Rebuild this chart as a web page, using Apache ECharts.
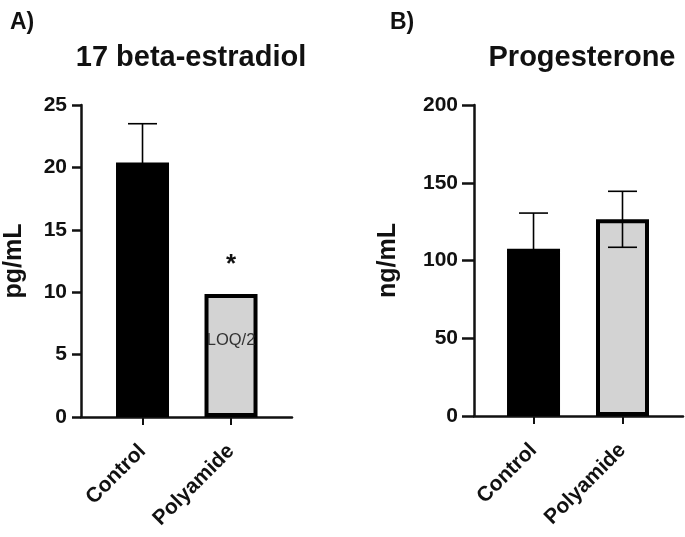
<!DOCTYPE html>
<html>
<head>
<meta charset="utf-8">
<script src="https://cdn.jsdelivr.net/npm/echarts@6/dist/echarts.min.js"></script>
<style>html,body{margin:0;padding:0;background:#fff;}#c{width:685px;height:537px;}</style>
</head>
<body>
<div id="c"></div>
<script>
// ---- data ----
const categories = ['Control', 'Polyamide'];
const e2Means = [20.4, 9.85];
const e2Err = [3.1, null];
const progMeans = [107.5, 126.5];
const progErr = [23, 18];
const e2Ticks = [0, 5, 10, 15, 20, 25];
const progTicks = [0, 50, 100, 150, 200];
const barColors = ['#000000', '#d3d3d3'];
const panelTitles = ['17 beta-estradiol', 'Progesterone'];
const panelLetters = ['A)', 'B)'];
const yNames = ['pg/mL', 'ng/mL'];
const sigMark = '*';
const loqText = 'LOQ/2';
const sigY = 12.2;
const loqY = 6.1;

const FONT = "'Liberation Sans', Arial, Helvetica, sans-serif";
const INK = '#111';

function barData(means) {
  return means.map((v, i) => ({ value: [i, v], itemStyle: { color: barColors[i] } }));
}
function errData(means, errs) {
  const out = [];
  means.forEach((m, i) => { if (errs[i] != null) out.push([i, m - errs[i], m + errs[i]]); });
  return out;
}
function errRender(params, api) {
  const x = api.value(0);
  const lo = api.coord([x, api.value(1)]);
  const hi = api.coord([x, api.value(2)]);
  const hw = 14.5;
  const st = { stroke: '#000', lineWidth: 1.6 };
  return {
    type: 'group',
    children: [
      { type: 'line', shape: { x1: hi[0], y1: hi[1], x2: lo[0], y2: lo[1] }, style: st },
      { type: 'line', shape: { x1: hi[0] - hw, y1: hi[1], x2: hi[0] + hw, y2: hi[1] }, style: st },
      { type: 'line', shape: { x1: lo[0] - hw, y1: lo[1], x2: lo[0] + hw, y2: lo[1] }, style: st }
    ]
  };
}
const annData = [
  [1, sigY, sigMark, 'bold', 26, INK],
  [1, loqY, loqText, 'normal', 16.5, '#333']
];
function annRender(params, api) {
  const d = annData[params.dataIndex];
  const p = api.coord([d[0], d[1]]);
  return {
    type: 'text', x: p[0], y: p[1],
    style: { text: d[2], fontFamily: FONT, fontWeight: d[3], fontSize: d[4], fill: d[5], align: 'center', verticalAlign: 'middle' }
  };
}
function xAxisDef(gridIndex, min, max) {
  return {
    type: 'value', gridIndex, min, max,
    splitLine: { show: false },
    axisLine: { show: true, onZero: false, lineStyle: { color: INK, width: 2.5 } },
    axisTick: { show: true, customValues: [0, 1], length: 8, lineStyle: { color: INK, width: 2 } },
    axisLabel: {
      show: true, customValues: [0, 1], rotate: 45, margin: 31,
      formatter: v => categories[Math.round(v)] || '',
      fontFamily: FONT, fontWeight: 'bold', fontSize: 21, color: INK
    }
  };
}
function yAxisDef(gridIndex, ticks, name, nameGap, tickLen, labMargin) {
  return {
    type: 'value', gridIndex,
    min: ticks[0], max: ticks[ticks.length - 1], interval: ticks[1] - ticks[0],
    name, nameLocation: 'middle', nameRotate: 90, nameGap,
    nameTextStyle: { fontFamily: FONT, fontWeight: 'bold', fontSize: 25, color: INK },
    splitLine: { show: false },
    axisLine: { show: true, onZero: false, lineStyle: { color: INK, width: 2.5 } },
    axisTick: { show: true, length: tickLen, lineStyle: { color: INK, width: 2.5 } },
    axisLabel: { margin: labMargin, fontFamily: FONT, fontWeight: 'bold', fontSize: 21, color: INK }
  };
}

const chart = echarts.init(document.getElementById('c'), null, { renderer: 'canvas' });
chart.setOption({
  animation: false,
  backgroundColor: '#fff',
  title: [
    { text: panelLetters[0], left: 5, top: 6, textStyle: { fontFamily: FONT, fontWeight: 'bold', fontSize: 23, color: INK } },
    { text: panelTitles[0], left: 186, top: 38, textAlign: 'center', textStyle: { fontFamily: FONT, fontWeight: 'bold', fontSize: 29, color: INK } },
    { text: panelLetters[1], left: 385, top: 6, textStyle: { fontFamily: FONT, fontWeight: 'bold', fontSize: 23, color: INK } },
    { text: panelTitles[1], left: 577, top: 38, textAlign: 'center', textStyle: { fontFamily: FONT, fontWeight: 'bold', fontSize: 29, color: INK } }
  ],
  grid: [
    { left: 81, top: 105, width: 211, height: 312 },
    { left: 474, top: 105, width: 209, height: 311 }
  ],
  xAxis: [
    xAxisDef(0, -0.695, 1.689),
    xAxisDef(1, -0.669, 1.680)
  ],
  yAxis: [
    yAxisDef(0, e2Ticks, yNames[0], 54, 9, 14),
    yAxisDef(1, progTicks, yNames[1], 73, 12, 16)
  ],
  series: [
    {
      type: 'bar', xAxisIndex: 0, yAxisIndex: 0, barWidth: 53,
      itemStyle: { borderColor: '#000', borderWidth: 4 },
      data: barData(e2Means), z: 2
    },
    {
      type: 'custom', xAxisIndex: 0, yAxisIndex: 0, renderItem: errRender,
      encode: { x: 0, y: [1, 2] }, data: errData(e2Means, e2Err), z: 3
    },
    {
      type: 'custom', xAxisIndex: 0, yAxisIndex: 0, renderItem: annRender,
      encode: { x: 0, y: 1 }, data: annData.map(d => [d[0], d[1]]), z: 4
    },
    {
      type: 'bar', xAxisIndex: 1, yAxisIndex: 1, barWidth: 53,
      itemStyle: { borderColor: '#000', borderWidth: 4 },
      data: barData(progMeans), z: 2
    },
    {
      type: 'custom', xAxisIndex: 1, yAxisIndex: 1, renderItem: errRender,
      encode: { x: 0, y: [1, 2] }, data: errData(progMeans, progErr), z: 3
    }
  ]
});
</script>
</body>
</html>
